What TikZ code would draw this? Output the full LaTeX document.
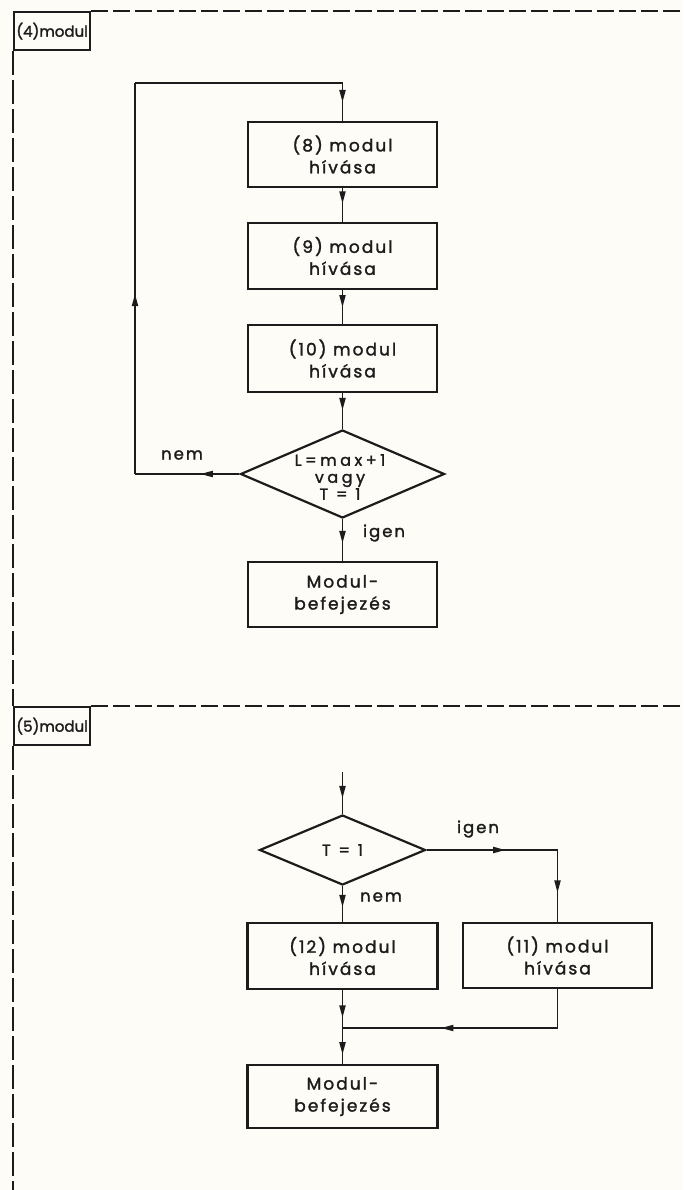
\documentclass[tikz,border=0pt]{standalone}
\usepackage{fontspec}
\setmainfont{Poppins}[LetterSpace=12, FakeBold=1.6]
\newfontfamily\tagfont{Poppins}[LetterSpace=0, FakeBold=1.8]
\newfontfamily\condfont{Poppins}[LetterSpace=22, FakeBold=1.6]
\usetikzlibrary{shapes.geometric,decorations.markings}

\definecolor{paper}{HTML}{FDFCF6}
\definecolor{ink}{HTML}{1C1C1C}

\tikzset{
  box/.style={draw=ink, text=ink, line width=2.2pt, minimum width=189pt, minimum height=65pt,
              inner sep=0pt, align=center, font=\fontsize{17}{22}\selectfont},
  tag/.style={draw=ink, text=ink, line width=2.2pt, minimum width=76pt, minimum height=38pt,
              inner sep=0pt, font=\tagfont\fontsize{15}{16}\selectfont},
  decision/.style={draw=ink, diamond, line width=2.2pt, inner sep=0pt},
  dtext/.style={text=ink, align=center, font=\condfont\fontsize{16}{17}\selectfont},
  flow/.style={draw=ink, line width=1.8pt},
  midarrow/.style={postaction={decorate}, decoration={markings,
      mark=at position #1 with {\fill[ink] (0pt,0pt) -- (-12pt,3.3pt) -- (-12pt,-3.3pt) -- cycle;}}},
  frame/.style={draw=ink, line width=1.8pt, dash pattern=on 17pt off 5pt},
  lbl/.style={text=ink, font=\fontsize{16.5}{18}\selectfont},
}

\begin{document}
\begin{tikzpicture}[x=1pt, y=-1pt]
  \fill[paper] (0,0) rectangle (683,1190);
  \useasboundingbox (0,0) rectangle (683,1190);

  % ---------- module (4) ----------
  \node[tag, anchor=north west] (t4) at (13,11) {(4)modul};
  \coordinate (t4end) at (683,11);
  \draw[frame] (t4.north east) -- (t4end);

  \node[box] (b8)  at (342.5,154.5) {(8) modul\\hívása};
  \node[box, minimum height=66pt] (b9)  at (342.5,256) {(9) modul\\hívása};
  \node[box, minimum height=67pt] (b10) at (342.5,358.5) {(10) modul\\hívása};
  \node[decision, minimum width=204pt, minimum height=88pt] (d1) at (342.5,474) {};
  \node[dtext] (d1t) at (340,477) {L=max+1\\vagy\\T = 1};
  \node[box] (e1) at (342.5,594.5) {Modul-\\befejezés};

  \coordinate (l1) at (135,474);
  \coordinate (l2) at (135,83);
  \coordinate (l3) at (342.5,83);

  \draw[flow, midarrow=0.5]  (l3) -- (b8.north);
  \draw[flow, midarrow=0.45] (b8.south) -- (b9.north);
  \draw[flow, midarrow=0.5]  (b9.south) -- (b10.north);
  \draw[flow, midarrow=0.47] (b10.south) -- (d1.north);
  \draw[flow, midarrow=0.57] (d1.south) -- (e1.north);
  \draw[flow, midarrow=0.37] (d1.west) -- (l1);
  \draw[flow, midarrow=0.46] (l1) -- (l2);
  \draw[flow] (l2) -- (l3);

  \node[lbl] (nem1)  at (182,455) {nem};
  \node[lbl] (igen1) at (384,533) {igen};

  % ---------- module (5) ----------
  \node[tag, anchor=north west] (t5) at (13,706) {(5)modul};
  \coordinate (t5end) at (683,706);
  \draw[frame] (t5.north east) -- (t5end);

  % left margin rule
  \coordinate (rulebot) at (13,1190);
  \draw[frame, dash pattern=on 24pt off 5pt] (t4.south west) -- (t5.north west);
  \draw[frame, dash pattern=on 24pt off 5pt] (t5.south west) -- (rulebot);

  \coordinate (in2) at (342.5,772);
  \node[decision, minimum width=166pt, minimum height=70pt] (d2) at (342.5,850) {};
  \node[dtext] (d2t) at (d2.center) {T = 1};
  \node[box, minimum width=190pt, minimum height=66pt] (b12) at (342.5,956) {(12) modul\\hívása};
  \node[box] (b11) at (557.5,955.5) {(11) modul\\hívása};
  \node[box, minimum width=190pt, minimum height=63pt] (e2) at (342.5,1096.5) {Modul-\\befejezés};

  \coordinate (k)  at (557.5,850);
  \coordinate (c)  at (557.5,1028);
  \coordinate (m)  at (342.5,1028);

  \draw[flow, midarrow=0.62] (in2) -- (d2.north);
  \draw[flow, midarrow=0.6]  (d2.east) -- (k);
  \draw[flow, midarrow=0.59] (k) -- (b11.north);
  \draw[flow, midarrow=0.58] (d2.south) -- (b12.north);
  \draw[flow, midarrow=0.72] (b12.south) -- (m);
  \draw[flow] (b11.south) -- (c);
  \draw[flow, midarrow=0.54] (c) -- (m);
  \draw[flow, midarrow=0.73] (m) -- (e2.north);

  \node[lbl] (igen2) at (478,829) {igen};
  \node[lbl] (nem2)  at (381,897) {nem};
\end{tikzpicture}
\end{document}
